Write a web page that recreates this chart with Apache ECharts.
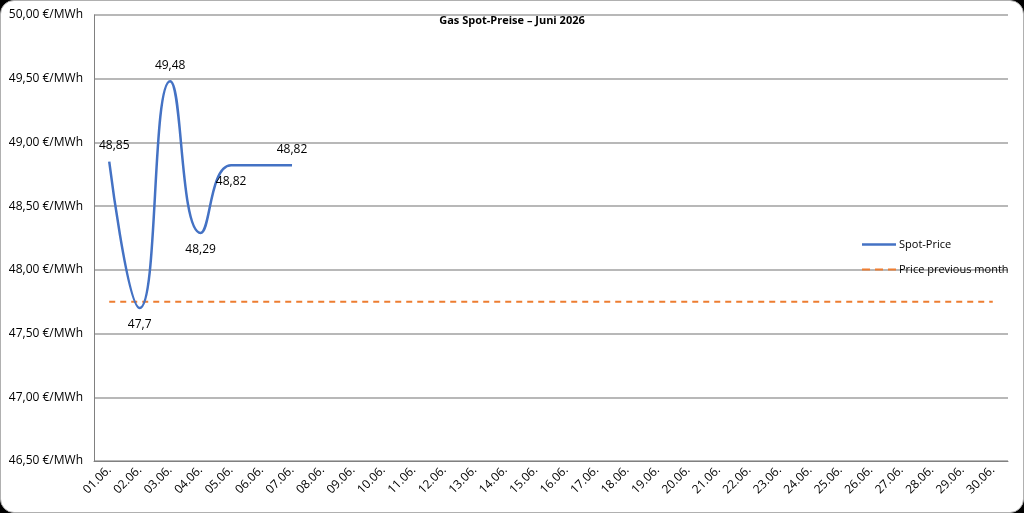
<!DOCTYPE html>
<html>
<head>
<meta charset="utf-8">
<script src="https://cdn.jsdelivr.net/npm/echarts@6/dist/echarts.min.js"></script>
<style>
html,body{margin:0;padding:0;background:#000;}
#frame{position:absolute;left:0;top:0;width:1024px;height:513px;box-sizing:border-box;background:#fff;border:1px solid #b0b0b0;border-radius:14px;}
#c{position:absolute;left:0;top:0;width:1024px;height:513px;}
</style>
</head>
<body>
<div id="frame"></div>
<div id="c"></div>
<script>
const categories = ['01.06.','02.06.','03.06.','04.06.','05.06.','06.06.','07.06.','08.06.','09.06.','10.06.','11.06.','12.06.','13.06.','14.06.','15.06.','16.06.','17.06.','18.06.','19.06.','20.06.','21.06.','22.06.','23.06.','24.06.','25.06.','26.06.','27.06.','28.06.','29.06.','30.06.'];
const spotPrice = [48.85, 47.7, 49.48, 48.29, 48.82, 48.82, 48.82];
const previousMonthPrice = categories.map(() => 47.75);
const yTicks = { min: 46.5, max: 50, interval: 0.5 };
const labelPlacement = ['top','bottom','top','bottom','bottom',null,'top'];

const fmt = v => String(v).replace('.', ',');
const font = '"Open Sans", "Liberation Sans", sans-serif';

const spotData = spotPrice.map((v, i) => ({
  value: v,
  label: labelPlacement[i]
    ? { show: true, position: labelPlacement[i], distance: labelPlacement[i] === 'top' ? 9 : 10, offset: i === 0 ? [5, 0] : [0, 0] }
    : { show: false }
}));

const dashIcon = 'path://M0,0 L8,0 L8,2 L0,2 Z M13,0 L21,0 L21,2 L13,2 Z M26,0 L34,0 L34,2 L26,2 Z';
const solidIcon = 'path://M0,0 L34,0 L34,2.5 L0,2.5 Z';

const chart = echarts.init(document.getElementById('c'));
chart.setOption({
  backgroundColor: 'transparent',
  animation: false,
  title: {
    text: 'Gas Spot-Preise – Juni 2026',
    left: 'center', top: 10,
    textStyle: { fontFamily: font, fontSize: 11, fontWeight: 'bold', color: '#000' }
  },
  legend: {
    orient: 'vertical',
    left: 862, top: 239,
    padding: 0,
    itemWidth: 34, itemHeight: 3, itemGap: 14,
    textStyle: { fontFamily: font, fontSize: 11, color: '#000', padding: [0, 0, 0, -2] },
    data: [
      { name: 'Spot-Price', icon: solidIcon, itemStyle: { color: '#4472C4', opacity: 1 } },
      { name: 'Price previous month', icon: dashIcon, itemStyle: { color: '#ED7D31', opacity: 1 } }
    ]
  },
  grid: { left: 94, right: 16, top: 15, bottom: 52 },
  xAxis: {
    type: 'category',
    data: categories,
    boundaryGap: true,
    axisLine: { lineStyle: { color: '#808080', width: 1 } },
    axisTick: { show: false },
    axisLabel: { rotate: 45, fontFamily: font, fontSize: 12, color: '#000', margin: 7, interval: 0 }
  },
  yAxis: {
    type: 'value',
    min: yTicks.min, max: yTicks.max, interval: yTicks.interval,
    axisLine: { show: true, lineStyle: { color: '#808080', width: 1 } },
    axisTick: { show: false },
    splitLine: { lineStyle: { color: '#a0a0a0', width: 1.5 } },
    axisLabel: { fontFamily: font, fontSize: 12, color: '#000', margin: 11, formatter: v => v.toFixed(2).replace('.', ',') + ' €/MWh' }
  },
  series: [
    {
      name: 'Spot-Price',
      type: 'line',
      data: spotData,
      smooth: 0.5,
      symbol: 'circle',
      symbolSize: 1,
      showSymbol: true,
      lineStyle: { color: '#4472C4', width: 2.5 },
      itemStyle: { color: 'rgba(68,114,196,0)', borderWidth: 0 },
      label: { fontFamily: font, fontSize: 12, color: '#000', formatter: p => fmt(p.value) },
      emphasis: { disabled: true },
      z: 3
    },
    {
      name: 'Price previous month',
      type: 'line',
      data: previousMonthPrice,
      symbol: 'none',
      lineStyle: { color: '#ED7D31', width: 2, type: [6, 5] },
      itemStyle: { color: '#ED7D31' },
      emphasis: { disabled: true },
      z: 2
    }
  ]
});
</script>
</body>
</html>
